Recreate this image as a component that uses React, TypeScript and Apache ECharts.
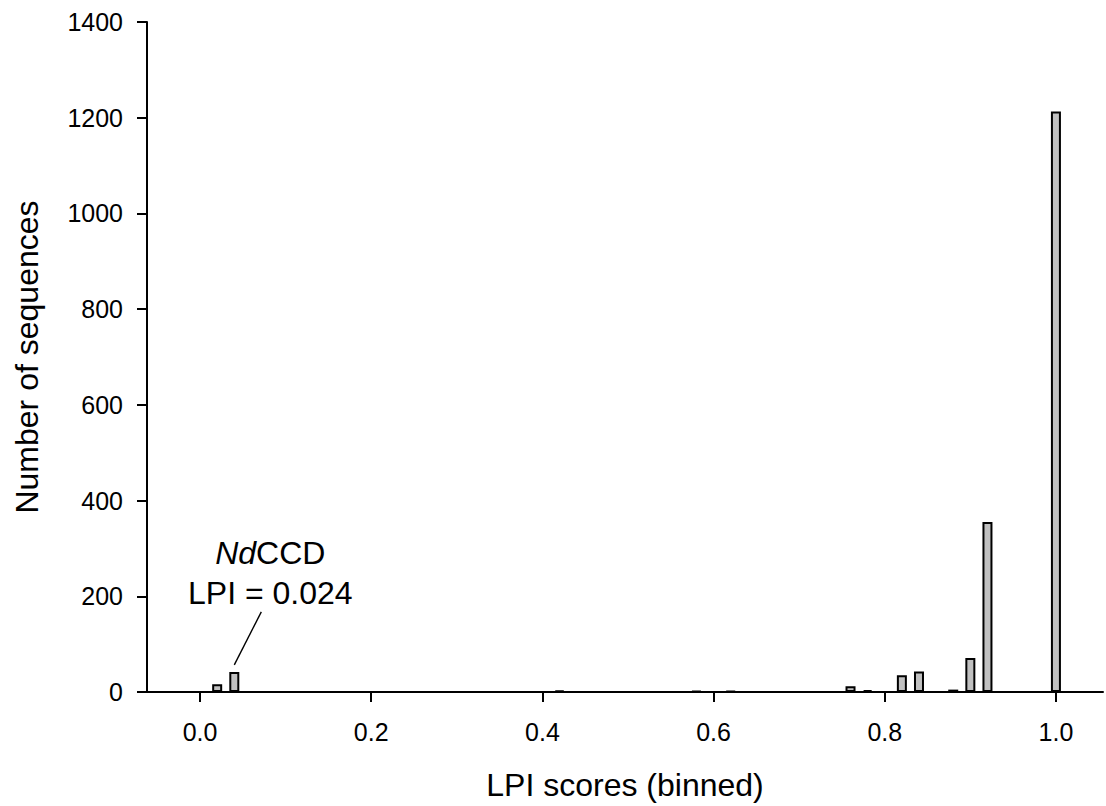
import React, { useEffect, useRef } from "react";
import * as echarts from "echarts";

const binCenters = [0.02, 0.04, 0.42, 0.58, 0.62, 0.76, 0.78, 0.82, 0.84, 0.88, 0.9, 0.92, 1.0];
const counts = [16, 42, 3, 2, 2, 12, 4, 35, 43, 5, 71, 355, 1213];
const xTicks = [0, 0.2, 0.4, 0.6, 0.8, 1.0];
const annotationTitle = "NdCCD";
const annotationValue = "LPI = 0.024";
const annotatedBin = 1;

const FONT = '"Liberation Sans", Arial, Helvetica, sans-serif';

export default function App() {
  const ref = useRef<HTMLDivElement>(null);
  useEffect(() => {
    if (!ref.current) return;
    const chart = echarts.init(ref.current, null, { renderer: "svg" });
    const option: any = {
      animation: false,
      backgroundColor: "#ffffff",
      textStyle: { fontFamily: FONT },
      grid: { left: 147, right: 3, top: 22, bottom: 112 },
      xAxis: {
        type: "value",
        min: -0.062,
        max: 1.055,
        name: "LPI scores (binned)",
        nameLocation: "middle",
        nameGap: 77,
        nameTextStyle: { fontSize: 32, color: "#000", fontFamily: FONT },
        axisLine: { show: true, onZero: false, lineStyle: { color: "#000", width: 2 } },
        axisTick: { show: true, inside: false, length: 10, customValues: xTicks, lineStyle: { color: "#000", width: 2 } },
        axisLabel: {
          customValues: xTicks,
          fontSize: 25,
          color: "#000",
          margin: 27,
          fontFamily: FONT,
          formatter: (v: number) => v.toFixed(1),
        },
        splitLine: { show: false },
      },
      yAxis: {
        type: "value",
        min: 0,
        max: 1400,
        interval: 200,
        name: "Number of sequences",
        nameLocation: "middle",
        nameGap: 104,
        nameTextStyle: { fontSize: 32, color: "#000", fontFamily: FONT },
        axisLine: { show: true, onZero: false, lineStyle: { color: "#000", width: 2 } },
        axisTick: { show: true, inside: false, length: 10, lineStyle: { color: "#000", width: 2 } },
        axisLabel: {
          fontSize: 25,
          color: "#000",
          margin: 24,
          fontFamily: FONT,
          formatter: (v: number) => String(v),
        },
        splitLine: { show: false },
      },
      series: [
        {
          type: "bar",
          barWidth: 10,
          data: binCenters.map((x, i) => [x, counts[i]]),
          itemStyle: { color: "#c0c0c0", borderColor: "#000", borderWidth: 2 },
        },
      ],
    };
    chart.setOption(option);

    const top = chart.convertToPixel({ gridIndex: 0 }, [binCenters[annotatedBin], counts[annotatedBin]]) as number[];
    chart.setOption({
      graphic: [
        {
          type: "line",
          shape: { x1: top[0], y1: top[1] - 7, x2: top[0] + 27, y2: top[1] - 60 },
          style: { stroke: "#000", lineWidth: 1.4 },
        },
        {
          type: "text",
          x: top[0] + 36,
          y: top[1] - 79,
          style: {
            text: annotationValue,
            fontSize: 32,
            fontFamily: FONT,
            fill: "#000",
            align: "center",
            verticalAlign: "middle",
          },
        },
        {
          type: "text",
          x: top[0] + 36,
          y: top[1] - 119,
          style: {
            text: "{i|" + annotationTitle.slice(0, 2) + "}" + annotationTitle.slice(2),
            fontSize: 32,
            fontFamily: FONT,
            fill: "#000",
            align: "center",
            verticalAlign: "middle",
            rich: { i: { fontStyle: "italic", fontSize: 32, fontFamily: FONT, fill: "#000" } },
          },
        },
      ],
    });

    return () => chart.dispose();
  }, []);
  return (
    <div
      ref={ref}
      style={{ position: "absolute", left: 0, top: 0, width: 1106, height: 806 }}
    />
  );
}
